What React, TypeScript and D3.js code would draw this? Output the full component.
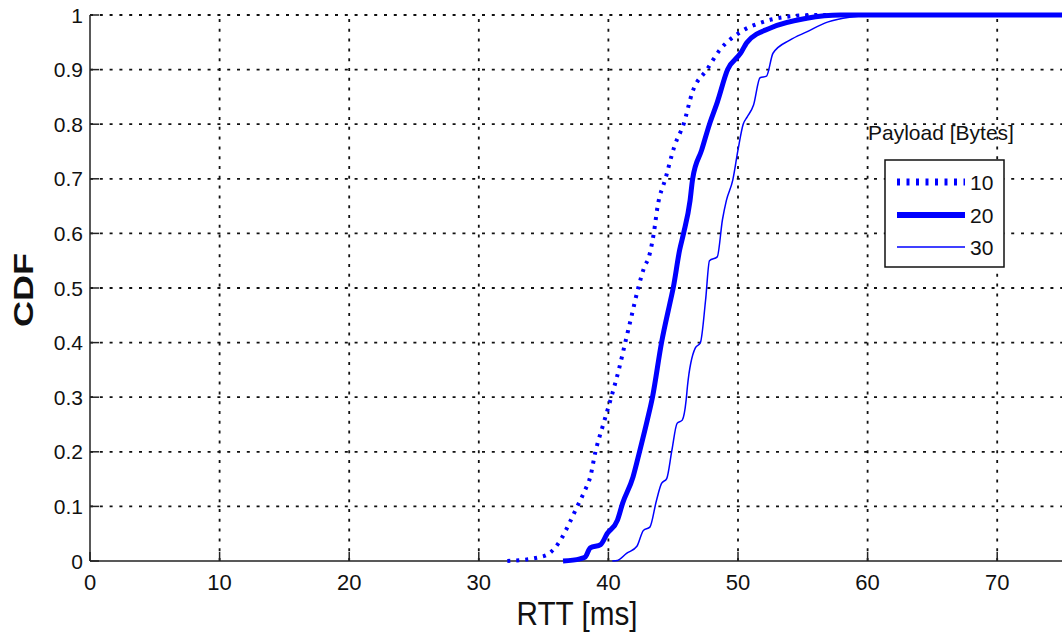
import React from "react";
import * as d3 from "d3";

const xTicks = [0, 10, 20, 30, 40, 50, 60, 70];
const yTicks = [0, 0.1, 0.2, 0.3, 0.4, 0.5, 0.6, 0.7, 0.8, 0.9, 1];
const yTickLabels = ["0", "0.1", "0.2", "0.3", "0.4", "0.5", "0.6", "0.7", "0.8", "0.9", "1"];

const rtt10 = [32.2, 34.7, 35.5, 36.3, 37.0, 37.6, 38.2, 38.6, 39.0, 39.6, 40.1, 40.8, 41.3, 41.8, 42.3, 42.8, 43.1, 43.5, 43.8, 44.4, 45.1, 45.8, 46.5, 47.6, 48.6, 50.2, 51.9, 53.5, 56, 75];
const cdf10 = [0, 0.007, 0.015, 0.038, 0.07, 0.10, 0.13, 0.154, 0.20, 0.25, 0.29, 0.35, 0.40, 0.45, 0.50, 0.54, 0.555, 0.60, 0.65, 0.70, 0.76, 0.80, 0.86, 0.90, 0.936, 0.969, 0.987, 0.996, 1, 1];

const rtt20 = [36.5, 37.8, 38.2, 38.6, 39.4, 39.9, 40.7, 41.1, 41.9, 42.4, 43.0, 43.4, 44.1, 44.8, 45.0, 45.5, 45.8, 46.3, 46.5, 47.2, 47.8, 48.4, 49.2, 50.2, 50.7, 52.6, 55.3, 57.9, 75];
const cdf20 = [0, 0.004, 0.007, 0.024, 0.03, 0.05, 0.075, 0.106, 0.154, 0.2, 0.258, 0.3, 0.4, 0.478, 0.5, 0.57, 0.6, 0.66, 0.7, 0.753, 0.8, 0.84, 0.9, 0.93, 0.95, 0.977, 0.994, 1, 1];

const rtt30 = [40.3, 40.7, 41.4, 42.2, 42.7, 43.2, 43.7, 44.1, 44.5, 44.9, 45.3, 45.7, 46.0, 46.1, 46.7, 47.1, 47.5, 47.8, 48.4, 48.8, 49.1, 49.6, 50.0, 50.4, 50.7, 51.2, 51.7, 52.2, 52.7, 54.0, 55.3, 56.9, 58.6, 61, 75];
const cdf30 = [0, 0.001, 0.014, 0.027, 0.056, 0.062, 0.11, 0.142, 0.151, 0.203, 0.252, 0.258, 0.295, 0.32, 0.39, 0.4, 0.478, 0.55, 0.557, 0.625, 0.66, 0.698, 0.753, 0.80, 0.813, 0.835, 0.885, 0.888, 0.93, 0.954, 0.969, 0.987, 0.996, 1, 1];

const seriesNames = ["10", "20", "30"];

const FONT = "'Liberation Sans', Arial, Helvetica, sans-serif";
const BLUE = "#0000ff";

export default function App() {
  const W = 1062, H = 633;
  const x = d3.scaleLinear().domain([0, 75]).range([90, 1062]);
  const y = d3.scaleLinear().domain([0, 1]).range([561, 15]);

  const line = d3.line<[number, number]>().x(d => x(d[0])).y(d => y(d[1])).curve(d3.curveMonotoneX);
  const zip = (a: number[], b: number[]) => a.map((v, i) => [v, b[i]] as [number, number]);

  const styles = [
    { w: 4, dash: "3,6" },
    { w: 5, dash: "" },
    { w: 1.5, dash: "" },
  ];
  const data = [zip(rtt10, cdf10), zip(rtt20, cdf20), zip(rtt30, cdf30)];

  const gridDash = "3,6.8";
  const legendY = [182, 215, 247];

  return (
    <svg width={W} height={H} style={{ position: "absolute", left: 0, top: 0, background: "#fff" }} fontFamily={FONT}>
      {/* grid */}
      {xTicks.filter(t => t > 0).map(t => (
        <line key={"gx" + t} x1={x(t)} x2={x(t)} y1={y(0)} y2={y(1)} stroke="#111" strokeWidth={1.8} strokeDasharray={gridDash} />
      ))}
      {yTicks.filter(t => t > 0).map(t => (
        <line key={"gy" + t} x1={x(0)} x2={W} y1={y(t)} y2={y(t)} stroke="#111" strokeWidth={1.8} strokeDasharray={gridDash} />
      ))}
      {/* axes */}
      <line x1={x(0)} x2={x(0)} y1={y(0)} y2={y(1)} stroke="#222" strokeWidth={1.5} />
      <line x1={x(0)} x2={W} y1={y(0)} y2={y(0)} stroke="#222" strokeWidth={1.5} />
      {yTicks.map(t => (
        <line key={"ty" + t} x1={x(0)} x2={x(0) + 9} y1={y(t)} y2={y(t)} stroke="#222" strokeWidth={1.5} />
      ))}
      {xTicks.map(t => (
        <line key={"tx" + t} x1={x(t)} x2={x(t)} y1={y(0)} y2={y(0) - 9} stroke="#222" strokeWidth={1.5} />
      ))}
      {yTicks.map((t, i) => (
        <text key={"ly" + t} x={83} y={y(t)} dy="0.36em" textAnchor="end" fontSize={21} fill="#111">{yTickLabels[i]}</text>
      ))}
      {xTicks.map(t => (
        <text key={"lx" + t} x={x(t)} y={590} textAnchor="middle" fontSize={22} fill="#111">{t}</text>
      ))}
      <text x={577} y={625} textAnchor="middle" fontSize={34} fill="#111" textLength={121} lengthAdjust="spacingAndGlyphs">RTT [ms]</text>
      <text transform="translate(33,290) rotate(-90)" textAnchor="middle" fontSize={28} fontWeight="bold" fill="#111" textLength={74} lengthAdjust="spacingAndGlyphs">CDF</text>

      {/* series */}
      {data.map((d, i) => (
        <path key={"s" + i} d={line(d) || ""} fill="none" stroke={BLUE} strokeWidth={styles[i].w} strokeDasharray={styles[i].dash || undefined} strokeLinejoin="round" />
      ))}

      {/* legend */}
      <text x={868} y={140} fontSize={21} fill="#111">Payload [Bytes]</text>
      <rect x={885} y={160} width={119} height={107} fill="#fff" stroke="#111" strokeWidth={1.5} />
      {seriesNames.map((n, i) => (
        <g key={"lg" + i}>
          <line x1={897} x2={965} y1={legendY[i]} y2={legendY[i]} stroke={BLUE}
            strokeWidth={i === 0 ? 7 : i === 1 ? 6 : 1.5} strokeDasharray={i === 0 ? "3,6.5" : undefined} />
          <text x={970} y={legendY[i]} dy="0.36em" fontSize={21} fill="#111">{n}</text>
        </g>
      ))}
    </svg>
  );
}
